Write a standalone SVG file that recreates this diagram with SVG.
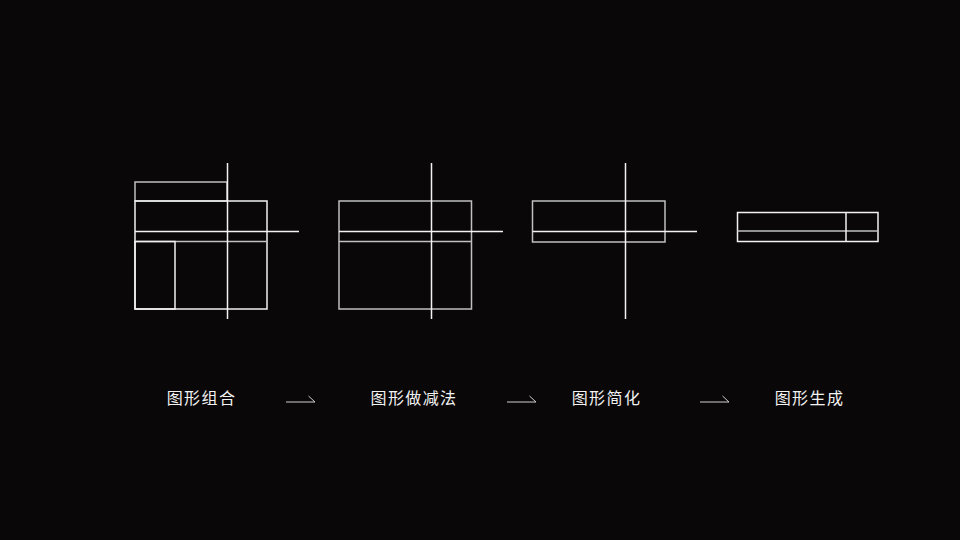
<svg xmlns="http://www.w3.org/2000/svg" width="960" height="540" viewBox="0 0 960 540">
<style>
.w{fill:none;stroke:#f2f2f2;stroke-width:1.5}
.g{fill:none;stroke:#c0c0c0;stroke-width:1.5}
.lbl{font-family:"Noto Sans CJK SC","Liberation Sans",sans-serif;font-size:16px;font-weight:400;fill:#f2f2f2;letter-spacing:1.4px;text-anchor:middle}
.arr{fill:none;stroke:#cfcfcf;stroke-width:1}
</style>
<rect width="960" height="540" fill="#0a0708"/>
<g id="fig1">
<rect class="g" x="135" y="182" width="92" height="19"/>
<rect class="w" x="135" y="201" width="132" height="108"/>
<line class="g" x1="135" y1="241.5" x2="267" y2="241.5"/>
<rect class="w" x="135" y="241.5" width="40" height="67.5"/>
<line class="w" x1="135" y1="231.5" x2="299" y2="231.5"/>
<line class="w" x1="227.5" y1="163" x2="227.5" y2="319"/>
</g>
<g id="fig2">
<rect class="g" x="339" y="201" width="132.5" height="108"/>
<line class="g" x1="339" y1="241.5" x2="471.5" y2="241.5"/>
<line class="w" x1="339" y1="231.5" x2="503" y2="231.5"/>
<line class="w" x1="431.5" y1="163" x2="431.5" y2="319"/>
</g>
<g id="fig3">
<rect class="g" x="532.5" y="201" width="132.5" height="41"/>
<line class="w" x1="532.5" y1="231.5" x2="697" y2="231.5"/>
<line class="w" x1="625.5" y1="163" x2="625.5" y2="319"/>
</g>
<g id="fig4">
<rect class="w" x="737.5" y="212.5" width="140.5" height="29"/>
<line class="g" x1="737.5" y1="231" x2="878" y2="231"/>
<line class="w" x1="846" y1="212.5" x2="846" y2="241.5"/>
</g>
<g id="labels">
<text class="lbl" x="201.5" y="404">图形组合</text>
<text class="lbl" x="414" y="404">图形做减法</text>
<text class="lbl" x="606.5" y="404">图形简化</text>
<text class="lbl" x="809.5" y="404">图形生成</text>
</g>
<g id="connectors">
<polyline class="arr" points="286,402 315,402 308.5,396"/>
<polyline class="arr" points="507,402 536,402 529.5,396"/>
<polyline class="arr" points="700,402 729,402 722.5,396"/>
</g>
</svg>
